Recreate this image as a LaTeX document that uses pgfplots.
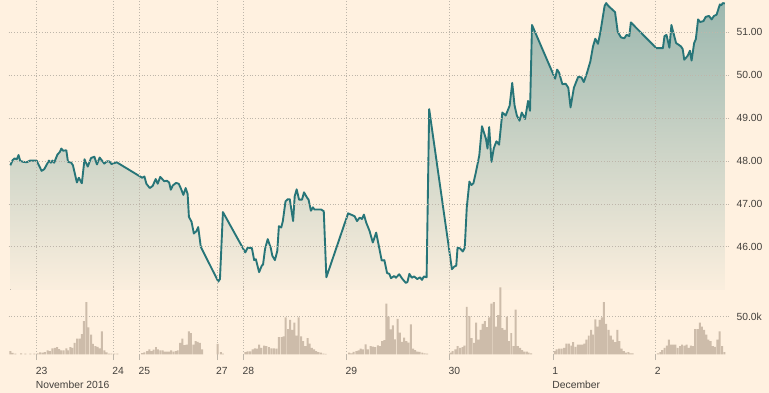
\documentclass[border=0pt]{standalone}
\usepackage{pgfplots}
\pgfplotsset{compat=1.18}
\usepackage{pgfplotstable}
\usepgfplotslibrary{fillbetween}
\usepackage{fontspec}
\setmainfont{Liberation Sans}
\definecolor{bg}{RGB}{255,241,224}
\definecolor{linec}{RGB}{39,117,120}
\definecolor{filltop}{RGB}{156,184,175}
\definecolor{barc}{RGB}{205,188,170}
\definecolor{gridc}{RGB}{190,182,170}
\definecolor{txt}{RGB}{67,64,60}

\pgfplotstableread{
x y
1.7 47.90
4 48.02
6 48.06
8.3 48.04
10 48.14
11.7 48.00
15 47.98
18.3 47.97
21.7 48.01
28.3 48.01
33.3 47.77
36 47.81
40.7 48.01
42.7 47.96
44.3 48.01
46 47.96
49.3 48.15
51.7 48.21
53.3 48.29
55 48.24
58.3 48.25
60 47.98
63.3 47.96
65 47.90
69 47.50
71 47.61
74 47.48
76.7 48.04
80 47.87
83.3 48.07
86.7 48.10
89.3 47.92
92 48.08
96.7 47.94
99.3 47.99
101.7 47.99
104 47.93
106.7 47.95
109.3 47.97
135 47.61
137.3 47.64
139.3 47.47
142.7 47.37
145.7 47.42
148.7 47.58
150.7 47.47
153.3 47.63
155.3 47.58
157.3 47.53
160 47.54
162.3 47.50
164 47.33
166 47.43
169.3 47.49
172 47.47
174 47.37
176.7 47.21
179 47.37
181 47.23
182.3 46.70
185 46.58
187.3 46.31
190 46.37
191.7 46.46
194.3 46.00
212 45.19
213.7 45.25
216.7 46.81
239.3 45.87
241.7 45.98
246 45.97
248.3 45.69
250 45.71
253.3 45.41
256 45.56
257.3 45.59
259.3 45.95
262 46.18
265 45.98
266.7 45.79
269.3 45.69
271.7 45.91
273.3 46.48
275.7 46.45
277.3 46.60
280 47.06
282.3 47.11
284.3 47.11
287.7 46.60
289.3 47.18
291.3 47.34
293.7 47.10
296.7 47.10
298.7 47.27
301.7 47.15
303.3 47.10
305.7 46.84
307.7 46.92
309.3 46.87
316 46.87
318.7 46.83
321.3 45.29
343.3 46.78
347.3 46.74
350 46.71
352.3 46.60
355 46.68
357.3 46.65
359.3 46.75
361.7 46.56
365 46.37
368.3 46.10
371.7 46.33
375 45.95
377.3 45.68
380 45.69
382.7 45.39
385 45.37
386.7 45.27
390 45.32
391.7 45.28
395 45.36
398.3 45.25
401.7 45.16
403.3 45.18
405.3 45.37
407.7 45.28
410 45.31
413.3 45.25
416 45.29
418 45.23
420 45.31
422.7 45.29
425.3 49.21
448.3 45.48
450.7 45.54
452.7 45.56
454 45.98
456.7 45.96
459.3 45.89
461.3 45.98
463.3 46.91
466 47.52
468 47.44
470 47.48
472.3 47.71
476 48.13
478.7 48.81
482.7 48.52
484.3 48.29
486 48.79
488.3 47.98
490.7 48.30
493.3 48.46
496 48.38
499.3 49.13
502.7 49.06
506.7 49.29
509.3 49.82
511.7 49.29
514 49.06
516.7 48.94
519 49.13
522.3 48.98
525.3 49.40
527.3 49.17
529.3 51.17
552.7 49.92
554.7 50.13
556.7 50.06
560 49.79
563.3 49.80
566 49.71
568.3 49.25
571.7 49.71
576 49.96
579.3 49.95
581.7 49.84
585 50.06
588.3 50.32
591 50.67
593.3 50.85
596 50.73
598.3 50.98
602.7 51.61
604.3 51.68
606.7 51.61
613.3 51.47
616 51.01
619.3 50.88
622.7 50.86
625 50.94
627.7 50.91
629.3 51.23
655 50.63
661.7 50.63
663.3 50.91
665.3 50.94
668.3 50.64
670.3 51.17
675 50.75
680 50.67
681.7 50.61
683.3 50.36
686.7 50.45
689 50.57
690.7 50.34
693.3 50.75
695 50.84
697.3 51.30
699.3 51.24
702.7 51.26
705 51.36
708.3 51.38
711 51.30
713.3 51.38
716 51.41
719.3 51.65
720.7 51.63
722.3 51.68
724.3 51.67
}\pricedata

\pgfplotstableread{
x v
1.7 4.3
4 2.0
6.7 1.0
12.7 1.3
17 0.9
22 0.9
26 0.9
29.3 1.3
31.7 2.6
34.3 2.2
36.7 3.0
39.3 5.2
41.7 4.3
44.3 7.8
46.7 8.7
49 9.6
51 7.0
53.3 5.2
55.7 5.2
58.3 7.8
60 5.2
62.3 9.6
64.3 8.7
66.7 15.2
69.3 20.9
71.7 20.9
74 27.0
76 44.3
78.7 69.6
80.7 35.7
83.3 26.1
85.3 13.9
87.7 10.9
90 10.0
92.3 7.8
94.3 30.4
96.7 5.2
99 2.6
101.7 1.0
104 0.9
107 0.9
110 0.9
135 1.7
137.3 2.6
140 4.3
142.3 6.5
144.3 4.3
146.7 6.1
149 9.6
151 6.5
153.3 5.2
155.7 5.2
157.7 3.5
160 3.5
162.3 3.5
164.3 5.2
166.7 3.5
169 4.3
171 5.2
173.3 15.2
175.7 20.9
177.7 12.2
180 13.0
182.3 30.4
184.3 28.3
186.7 13.0
189 17.4
191 16.5
193.3 15.2
195.7 6.5
211.3 14.0
214.7 3.0
216.7 1.0
239.3 3.0
241.7 3.9
244.3 3.9
246.7 6.5
249 7.8
251 7.4
253.3 13.0
255.7 8.7
258.3 11.7
260.7 10.9
263.3 9.6
265.7 7.8
268.3 7.8
270.7 7.4
273.3 23.0
276 23.0
278 23.9
280 49.1
282.7 33.5
284.7 45.7
286.7 32.6
289 42.2
291 24.8
293.3 49.1
295.7 23.9
297.7 17.4
300 10.9
302.3 21.7
304.3 14.3
306.7 8.7
309 6.5
311 4.3
313.3 3.0
315.7 2.2
318.3 0.9
320.7 0.5
344.3 2.2
346.7 1.3
349 3.1
351.7 4.4
354 5.3
356 7.5
358.3 6.6
361 13.3
363.3 6.6
366 11.0
368.3 10.2
370.7 9.7
373.3 11.9
375.7 11.0
377.7 17.7
380 19.0
382 67.6
384.3 50.0
386.3 33.2
388.5 38.5
390.7 19.9
393.3 47.3
395.7 28.7
397.7 16.4
400 22.1
402.3 17.7
404.3 15.5
406.7 39.8
409 7.5
411 5.7
413.3 3.5
415.7 3.1
418.3 2.2
420.7 1.3
423.3 0.9
446.7 2.2
449 4.3
451.7 6.5
454 10.9
456.7 8.7
459 9.6
461 11.7
463.3 63.0
466 50.9
468.3 21.7
470.7 15.2
472.7 42.2
475 19.6
477.3 32.6
479.3 40.4
481.7 44.3
484 36.1
486 49.1
488.3 67.4
490.7 69.6
492.7 37.0
495 52.2
497.3 89.1
499.3 34.8
501.7 32.6
504 50.0
506 17.4
508.3 28.3
510.7 10.9
512.7 59.6
515 10.9
517.3 8.7
519.3 5.7
521.7 3.5
524 3.5
526 2.2
528.3 1.3
552.3 4.3
554.3 6.5
556.7 7.4
559.3 7.4
561.7 8.7
564 14.3
566.7 14.3
569 11.7
571 16.1
573.3 10.0
575.7 13.0
577.7 13.0
580 13.0
582.3 14.3
584.3 19.6
586.7 24.8
589 32.6
591 26.1
593.3 46.5
595.7 37.0
597.7 45.7
600 49.1
602 69.6
604.3 40.4
606.7 32.6
609 24.8
611 19.6
613.3 16.1
615.7 32.6
617.7 17.4
620 7.4
622.3 4.3
624.3 2.2
626.7 3.0
629 1.3
631 1.3
656.7 1.3
659 3.0
661 5.7
663.3 8.7
665.7 11.7
667.7 19.6
670 13.0
672.3 13.0
674.3 13.0
676.7 8.7
679 10.9
681 13.0
683.3 11.7
685.7 13.0
687.7 8.7
690 11.7
692.3 10.9
694.3 33.5
696.7 33.5
699 42.2
701 37.0
703.3 32.6
705.7 26.1
707.7 19.6
710 17.4
712.3 10.9
714.3 10.0
716.7 19.6
719 30.4
721.7 10.9
724 3.0
}\voldata

\begin{document}
\pagecolor{bg}
\begin{tikzpicture}
\path (0,0) rectangle (769bp,397bp);
\pgfplotsset{
  common/.style={
    scale only axis, width=730bp, xmin=0, xmax=730,
    axis line style={draw=none},
    xtick={28.3,105.7,132.3,210.7,237.3,341.7,445.7,550.7,654.3},
    xmajorgrids, ymajorgrids,
    grid style={gridc, line width=0.7bp, dash pattern=on 0.8bp off 2bp},
    yticklabel pos=right,
    ytick style={draw=none},
    tick label style={text=txt, font=\fontsize{10.5}{14}\selectfont},
    yticklabel style={anchor=west, inner sep=0pt, xshift=6bp},
    /pgf/number format/assume math mode=true,
  }
}
\begin{axis}[common,
  at={(0,397bp)}, anchor=north west,
  height=292.7bp, ymin=45, ymax=51.744,
  ytick={46,47,48,49,50,51},
  yticklabel={\pgfmathprintnumber[fixed,fixed zerofill,precision=2]{\tick}},
  xticklabels={}, xtick style={draw=none},
  axis on top,
]
\addplot[name path=price, draw=none, forget plot] table[x=x,y=y]{\pricedata};
\addplot[name path=base, draw=none, forget plot] coordinates {(1.7,44.7) (724.3,44.7)};
\addplot[draw=none, top color=filltop, bottom color=bg] fill between[of=price and base];
\addplot[color=linec, line width=1.9bp, line join=round, mark=none] table[x=x,y=y]{\pricedata};
\end{axis}
\begin{axis}[common,
  at={(0,39bp)}, anchor=south west,
  height=70bp, ymin=0, ymax=92.1,
  ytick={50}, yticklabels={50.0k},
  xtick pos=left, tick align=outside, major tick length=6bp,
  xtick style={draw=gridc, line width=0.8bp},
  xticklabels={{23\\November 2016},24,25,27,28,29,30,{1\\December},2},
  xticklabel style={anchor=north west, inner sep=0pt, xshift=-1bp, yshift=-7bp, align=left},
  yticklabel style={xshift=-6bp},
]
\addplot[ybar, bar width=2, fill=barc, draw=none] table[x=x,y=v]{\voldata};
\end{axis}
\end{tikzpicture}
\end{document}
